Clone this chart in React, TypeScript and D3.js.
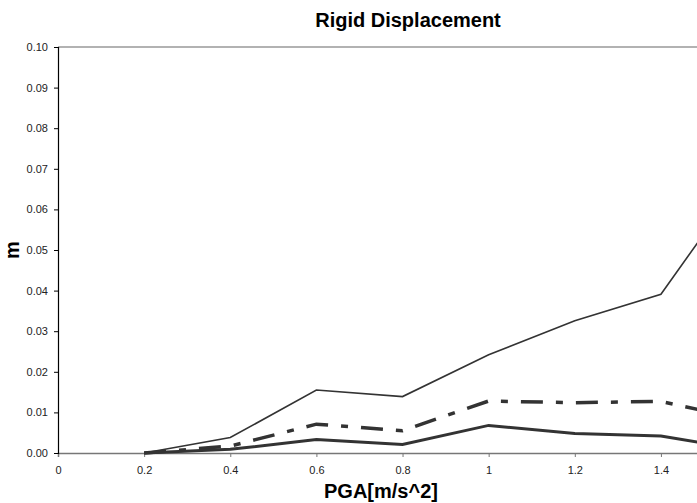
import * as d3 from 'd3';
import React, { useRef, useEffect } from 'react';

const pga = [0.2, 0.4, 0.6, 0.8, 1.0, 1.2, 1.4, 1.5];
const upper = [0, 0.0038, 0.0155, 0.0139, 0.0242, 0.0326, 0.0391, 0.054];
const middle = [0, 0.0017, 0.0071, 0.0055, 0.0128, 0.0124, 0.0127, 0.0104];
const lower = [0, 0.0009, 0.0033, 0.0021, 0.0068, 0.0048, 0.0042, 0.0024];
const xTicks = [0, 0.2, 0.4, 0.6, 0.8, 1, 1.2, 1.4];
const yTicks = [0, 0.01, 0.02, 0.03, 0.04, 0.05, 0.06, 0.07, 0.08, 0.09, 0.1];

const W = 697;
const H = 503;

function RigidChart() {
    const ref = useRef<SVGSVGElement>(null);

    useEffect(() => {
        const svg = d3.select(ref.current);
        svg.selectAll("*").remove();

        const left = 58, right = 704, top = 47, bottom = 453;
        const x = d3.scaleLinear().domain([0, 1.5]).range([left, right]);
        const y = d3.scaleLinear().domain([0, 0.1]).range([bottom, top]);
        const font = "Arial, 'Liberation Sans', sans-serif";

        // plot area top border
        svg.append("line")
            .attr("x1", left).attr("x2", right)
            .attr("y1", top).attr("y2", top)
            .attr("stroke", "#999").attr("stroke-width", 1.5);

        // x axis
        const gx = svg.append("g")
            .attr("transform", `translate(0, ${bottom})`)
            .call(d3.axisBottom(x).tickValues(xTicks).tickSize(4).tickPadding(9)
                .tickFormat(d => d3.format("")(+(+d).toFixed(1))));
        gx.select(".domain").attr("stroke", "#777").attr("stroke-width", 1.5);
        gx.selectAll(".tick line").attr("stroke", "#777");
        gx.selectAll("text")
            .attr("font-family", font).attr("font-size", 11).attr("fill", "#222");

        // y axis
        const gy = svg.append("g")
            .attr("transform", `translate(${left}, 0)`)
            .call(d3.axisLeft(y).tickValues(yTicks).tickSize(4).tickPadding(6)
                .tickFormat(d3.format(".2f")));
        gy.select(".domain").attr("stroke", "#000").attr("stroke-width", 1.2);
        gy.selectAll(".tick line").attr("stroke", "#000");
        gy.selectAll("text")
            .attr("font-family", font).attr("font-size", 11).attr("fill", "#222");

        const line = (vals: number[]) => d3.line<number>()
            .x((_, i) => x(pga[i]))
            .y(d => y(d))(vals);

        svg.append("path").attr("d", line(upper))
            .attr("fill", "none").attr("stroke", "#333").attr("stroke-width", 1.6);
        svg.append("path").attr("d", line(middle))
            .attr("fill", "none").attr("stroke", "#333").attr("stroke-width", 3.5)
            .attr("stroke-dasharray", "22,13,7,13");
        svg.append("path").attr("d", line(lower))
            .attr("fill", "none").attr("stroke", "#333").attr("stroke-width", 3);

        svg.append("text")
            .attr("x", 408).attr("y", 27)
            .attr("text-anchor", "middle")
            .attr("font-family", font).attr("font-weight", "bold").attr("font-size", 20)
            .text("Rigid Displacement");

        svg.append("text")
            .attr("x", (left + right) / 2).attr("y", 498)
            .attr("text-anchor", "middle")
            .attr("font-family", font).attr("font-weight", "bold").attr("font-size", 20)
            .text("PGA[m/s^2]");

        svg.append("text")
            .attr("transform", `translate(19, ${(top + bottom) / 2}) rotate(-90)`)
            .attr("text-anchor", "middle")
            .attr("font-family", font).attr("font-weight", "bold").attr("font-size", 20)
            .text("m");
    }, []);

    return (
        <svg ref={ref} width={W} height={H}
            style={{ position: "fixed", left: 0, top: 0, background: "#fff", overflow: "hidden" }} />
    );
}

export default function App() {
    return <RigidChart />;
}
